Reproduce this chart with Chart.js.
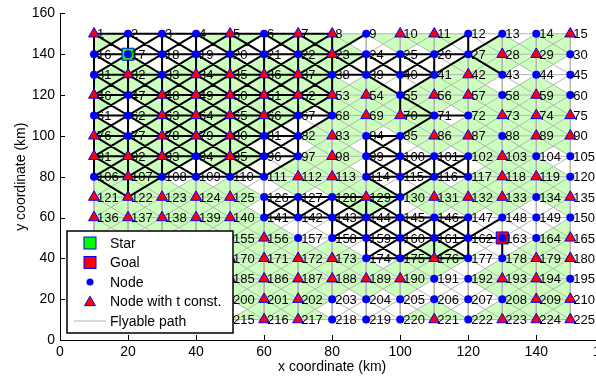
<!DOCTYPE html>
<html>
<head>
<meta charset="utf-8">
<script src="https://cdn.jsdelivr.net/npm/chart.js@4/dist/chart.umd.min.js"></script>
<style>
  html, body { margin: 0; padding: 0; background: #fff; overflow: hidden; }
  #wrap { width: 620px; height: 376px; }
</style>
</head>
<body>
<div id="wrap"><canvas id="grid-chart" width="620" height="376"></canvas></div>
<script>
// axis ticks
var xTicks = [0, 20, 40, 60, 80, 100, 120, 140, 160];
var yTicks = [0, 20, 40, 60, 80, 100, 120, 140, 160];

// grid of nodes: node 1 is top-left, numbering runs left to right, top to bottom
var nodeXs = [10, 20, 30, 40, 50, 60, 70, 80, 90, 100, 110, 120, 130, 140, 150];
var nodeYs = [150, 140, 130, 120, 110, 100, 90, 80, 70, 60, 50, 40, 30, 20, 10];

// nodes drawn as red triangles (node with t const.)
var tConstNodes = [1, 5, 7, 8, 10, 11, 15,
  23, 28, 29,
  32, 34, 35, 36, 37, 42,
  46, 48, 49, 50, 51, 52, 53, 54, 56, 57, 59,
  63, 64, 65, 66, 69, 70, 73, 74, 75,
  76, 78, 79, 80, 83, 86, 87, 89, 90,
  91, 92, 93, 95, 98, 103,
  107, 112, 113, 118, 119,
  121, 122, 123, 124, 125, 129, 131, 132, 133, 135,
  136, 137, 138, 139, 140,
  156, 165,
  170, 171, 172, 173, 176, 179, 180,
  185, 186, 187, 188, 189, 190, 193, 194,
  201, 202, 209, 210,
  216, 217, 221, 223, 224, 225];

var starNode = 17;
var goalNode = 163;

// cells (given by top-left node) whose sides and diagonals are drawn black
var blackCells = [1, 2, 3, 4, 5, 6, 7,
  16, 17, 18, 19, 20, 21, 22, 23, 24, 25,
  31, 32, 33, 34, 35, 36, 37,
  46, 47, 48, 49, 50, 51, 52,
  61, 62, 63, 64, 65, 66,
  76, 77, 78, 79, 80, 81, 84,
  91, 92, 93, 94, 95, 99, 100, 101,
  126, 127, 128, 129,
  143, 144, 145, 146,
  159, 160, 161];

// single black edges outside those cells
var blackEdges = [[9, 23], [12, 26], [12, 27], [13, 27], [26, 27], [27, 41], [27, 43],
  [39, 55], [40, 55], [41, 55], [55, 70], [55, 71], [70, 71], [71, 72], [71, 85],
  [67, 68], [68, 82], [96, 111], [97, 111],
  [106, 122], [107, 122], [108, 122],
  [114, 130], [115, 130], [116, 130],
  [148, 162], [162, 163], [163, 178]];

var legendLabels = ['Star', 'Goal', 'Node', 'Node with t const.', 'Flyable path'];

function nx(id) { return nodeXs[(id - 1) % 15]; }
function ny(id) { return nodeYs[Math.floor((id - 1) / 15)]; }
function isT(id) { return tConstNodes.indexOf(id) >= 0; }

var allIds = [];
for (var i = 1; i <= 225; i++) allIds.push(i);

// flyable path: every node to its 8 neighbours
var grayPts = [];
function pushEdge(arr, a, b) {
  arr.push({x: nx(a), y: ny(a)}, {x: nx(b), y: ny(b)}, {x: NaN, y: NaN});
}
allIds.forEach(function(id) {
  var c = (id - 1) % 15, r = Math.floor((id - 1) / 15);
  if (c < 14) pushEdge(grayPts, id, id + 1);
  if (r < 14) pushEdge(grayPts, id, id + 15);
  if (c < 14 && r < 14) pushEdge(grayPts, id, id + 16);
  if (c > 0 && r < 14) pushEdge(grayPts, id, id + 14);
});

var blackPts = [];
var seen = {};
function addBlack(a, b) {
  var k = Math.min(a, b) + '-' + Math.max(a, b);
  if (seen[k]) return;
  seen[k] = true;
  pushEdge(blackPts, a, b);
}
blackCells.forEach(function(n) {
  addBlack(n, n + 1); addBlack(n, n + 15); addBlack(n + 1, n + 16);
  addBlack(n + 15, n + 16); addBlack(n, n + 16); addBlack(n + 1, n + 15);
});
blackEdges.forEach(function(e) { addBlack(e[0], e[1]); });

var dotPts = allIds.filter(function(id) { return !isT(id); }).map(function(id) { return {x: nx(id), y: ny(id)}; });
var triPts = allIds.filter(isT).map(function(id) { return {x: nx(id), y: ny(id)}; });

var GREEN = 'rgb(204,255,190)';

// light green triangles: each cell is split by its diagonals,
// a quarter is green when one of its two corner nodes has a t const.
var greenFill = {
  id: 'greenFill',
  beforeDatasetsDraw: function(chart) {
    var ctx = chart.ctx, xs = chart.scales.x, ys = chart.scales.y;
    ctx.save();
    ctx.fillStyle = GREEN;
    ctx.strokeStyle = GREEN;
    ctx.lineWidth = 0.6;
    for (var r = 0; r < 14; r++) {
      for (var c = 0; c < 14; c++) {
        var tl = r * 15 + c + 1, tr = tl + 1, bl = tl + 15, br = tl + 16;
        var cx = xs.getPixelForValue(nx(tl) + 5), cy = ys.getPixelForValue(ny(tl) - 5);
        [[tl, tr], [tr, br], [br, bl], [bl, tl]].forEach(function(s) {
          if (!isT(s[0]) && !isT(s[1])) return;
          ctx.beginPath();
          ctx.moveTo(xs.getPixelForValue(nx(s[0])), ys.getPixelForValue(ny(s[0])));
          ctx.lineTo(xs.getPixelForValue(nx(s[1])), ys.getPixelForValue(ny(s[1])));
          ctx.lineTo(cx, cy);
          ctx.closePath();
          ctx.fill();
          ctx.stroke();
        });
      }
    }
    ctx.restore();
  }
};

var nodeLabels = {
  id: 'nodeLabels',
  afterDatasetsDraw: function(chart) {
    var ctx = chart.ctx, xs = chart.scales.x, ys = chart.scales.y;
    ctx.save();
    ctx.font = '13px "Liberation Sans", Arial, sans-serif';
    ctx.fillStyle = '#000';
    ctx.textBaseline = 'middle';
    ctx.textAlign = 'left';
    allIds.forEach(function(id) {
      ctx.fillText(String(id), xs.getPixelForValue(nx(id)) + 3, ys.getPixelForValue(ny(id)) + 1);
    });
    ctx.restore();
  }
};

function drawTri(ctx, x, y, r) {
  ctx.beginPath();
  for (var k = 0; k < 3; k++) {
    var a = k * 2 * Math.PI / 3;
    var px = x + Math.sin(a) * r, py = y - Math.cos(a) * r;
    if (k === 0) ctx.moveTo(px, py); else ctx.lineTo(px, py);
  }
  ctx.closePath();
}

var axisAndLegend = {
  id: 'axisAndLegend',
  afterDraw: function(chart) {
    var ctx = chart.ctx, xs = chart.scales.x, ys = chart.scales.y, a = chart.chartArea;
    ctx.save();
    // inward tick marks
    ctx.strokeStyle = '#000';
    ctx.lineWidth = 1;
    ctx.beginPath();
    xTicks.forEach(function(v) {
      var p = Math.round(xs.getPixelForValue(v)) + 0.5;
      ctx.moveTo(p, a.bottom); ctx.lineTo(p, a.bottom - 5);
    });
    yTicks.forEach(function(v) {
      var p = Math.round(ys.getPixelForValue(v)) + 0.5;
      ctx.moveTo(a.left, p); ctx.lineTo(a.left + 5, p);
    });
    ctx.stroke();

    // legend box inside the plot
    var bx = 67, by = 231, bw = 166, bh = 102;
    ctx.fillStyle = '#fff';
    ctx.fillRect(bx, by, bw, bh);
    ctx.lineWidth = 1.5;
    ctx.strokeStyle = '#000';
    ctx.strokeRect(bx, by, bw, bh);
    var mx = 90, tx = 110, rowY = [243, 262.5, 282, 301.5, 321];
    ctx.font = '14px "Liberation Sans", Arial, sans-serif';
    ctx.textBaseline = 'middle';
    ctx.textAlign = 'left';
    legendLabels.forEach(function(lbl, k) {
      var y = rowY[k];
      ctx.lineWidth = 1;
      if (k === 0 || k === 1) {
        ctx.fillStyle = k === 0 ? '#00ff00' : '#ff0000';
        ctx.strokeStyle = '#0000ff';
        ctx.fillRect(mx - 6, y - 6, 12, 12);
        ctx.strokeRect(mx - 6, y - 6, 12, 12);
      } else if (k === 2) {
        ctx.fillStyle = '#0000ff';
        ctx.beginPath(); ctx.arc(mx, y, 3.5, 0, 2 * Math.PI); ctx.fill();
      } else if (k === 3) {
        ctx.fillStyle = '#ff0000';
        ctx.strokeStyle = '#0000ff';
        drawTri(ctx, mx, y + 1, 6.3);
        ctx.fill(); ctx.stroke();
      } else {
        ctx.strokeStyle = '#b4b4b4';
        ctx.beginPath(); ctx.moveTo(74, y); ctx.lineTo(106, y); ctx.stroke();
      }
      ctx.fillStyle = '#000';
      ctx.fillText(lbl, tx, y + 1);
    });
    ctx.restore();
  }
};

var tickFont = {family: '"Liberation Sans", Arial, sans-serif', size: 14};

new Chart(document.getElementById('grid-chart').getContext('2d'), {
  type: 'scatter',
  data: {
    datasets: [
      {type: 'line', data: grayPts, borderColor: '#b4b4b4', borderWidth: 1, pointRadius: 0, spanGaps: false, tension: 0, order: 6},
      {type: 'line', data: blackPts, borderColor: '#000', borderWidth: 2, pointRadius: 0, spanGaps: false, tension: 0, order: 5},
      {data: [{x: nx(starNode), y: ny(starNode)}], pointStyle: 'rect', pointRadius: 8.5, backgroundColor: '#00ff00', borderColor: '#0000ff', borderWidth: 1, order: 4},
      {data: [{x: nx(goalNode), y: ny(goalNode)}], pointStyle: 'rect', pointRadius: 8.5, backgroundColor: '#ff0000', borderColor: '#0000ff', borderWidth: 1, order: 4},
      {data: dotPts, pointStyle: 'circle', pointRadius: 4, backgroundColor: '#0000ff', borderColor: '#0000ff', borderWidth: 0, order: 3},
      {data: triPts, pointStyle: 'triangle', pointRadius: 6.3, backgroundColor: '#ff0000', borderColor: '#0000ff', borderWidth: 1, order: 2}
    ]
  },
  options: {
    responsive: false,
    animation: false,
    events: [],
    layout: {padding: {top: 13, right: 13, left: 0, bottom: 0}},
    plugins: {legend: {display: false}, tooltip: {enabled: false}},
    scales: {
      x: {
        type: 'linear', min: 0, max: 160,
        afterFit: function(s) { s.height = 36; },
        afterBuildTicks: function(s) { s.ticks = xTicks.map(function(v) { return {value: v}; }); },
        ticks: {font: tickFont, color: '#000', padding: 4, maxRotation: 0},
        grid: {display: true, drawOnChartArea: false, drawTicks: false},
        border: {display: true, color: '#000', width: 1},
        title: {display: true, text: 'x coordinate (km)', color: '#000', font: {family: tickFont.family, size: 14}, padding: {top: 0, bottom: 0}}
      },
      y: {
        type: 'linear', min: 0, max: 160,
        afterFit: function(s) { s.width = 60; },
        afterBuildTicks: function(s) { s.ticks = yTicks.map(function(v) { return {value: v}; }); },
        ticks: {font: tickFont, color: '#000', padding: 5},
        grid: {display: true, drawOnChartArea: false, drawTicks: false},
        border: {display: true, color: '#000', width: 1},
        title: {display: true, text: 'y coordinate (km)', color: '#000', font: {family: tickFont.family, size: 14}, padding: {top: 13, bottom: 0}}
      }
    }
  },
  plugins: [greenFill, nodeLabels, axisAndLegend]
});
</script>
</body>
</html>
